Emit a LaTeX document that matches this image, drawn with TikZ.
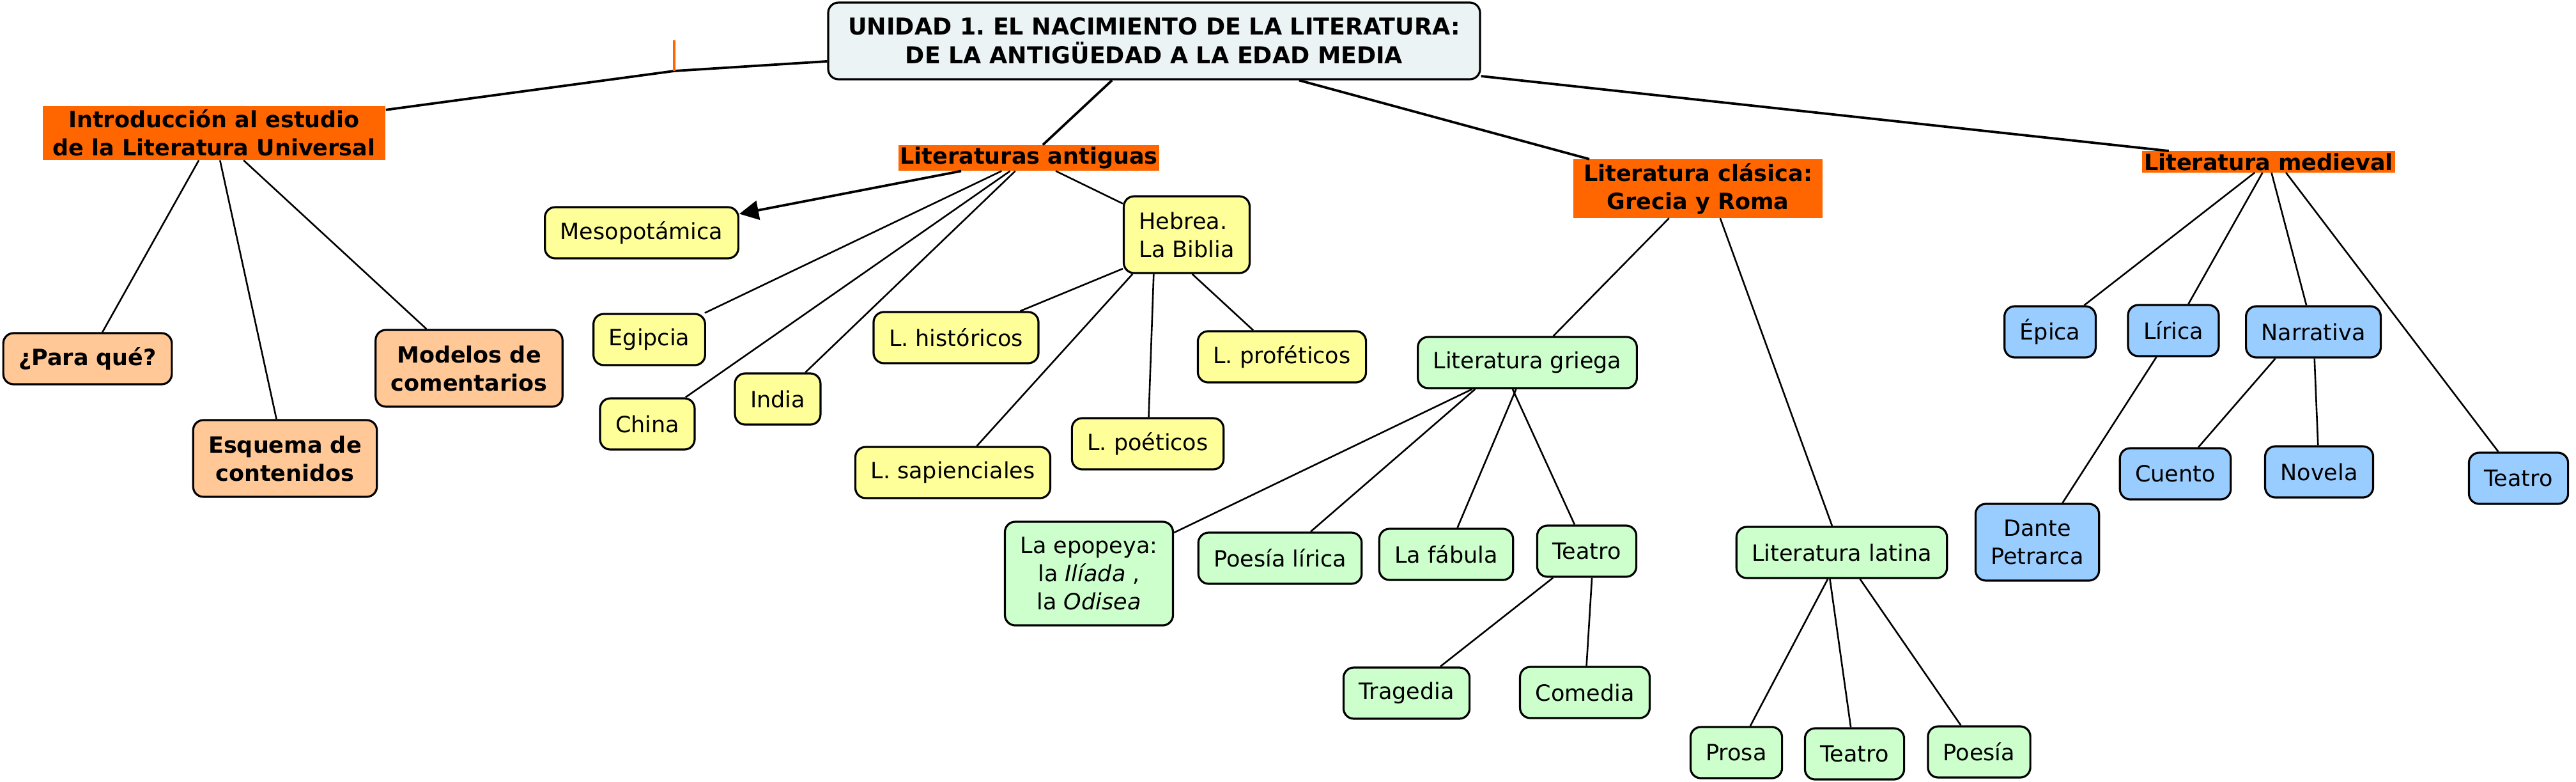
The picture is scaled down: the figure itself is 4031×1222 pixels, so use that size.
\documentclass[tikz,border=0pt]{standalone}
\usepackage{fontspec}
\setmainfont{DejaVu Sans}
\usetikzlibrary{arrows.meta}
\frenchspacing

\definecolor{naranja}{HTML}{FF6600}
\definecolor{melocoton}{HTML}{FFC896}
\definecolor{amarillo}{HTML}{FFFF99}
\definecolor{verde}{HTML}{CCFFCC}
\definecolor{azul}{HTML}{99CCFF}
\definecolor{grisazul}{HTML}{EBF3F5}

\tikzset{
  concepto/.style={draw, line width=1.6pt, rounded corners=8pt, align=center,
    inner xsep=12pt, minimum height=40pt},
  negrita/.style={execute at begin node=\bfseries},
  titulo/.style={concepto, negrita, fill=grisazul, minimum height=60pt, minimum width=510pt,
    font=\fontsize{18.2pt}{22.5pt}\selectfont},
  rama/.style={fill=naranja, negrita, align=center, inner xsep=8pt, inner ysep=3pt},
  pregunta/.style={concepto, negrita, fill=melocoton},
  antigua/.style={concepto, fill=amarillo},
  clasico/.style={concepto, fill=verde},
  medio/.style={concepto, fill=azul},
  enlace/.style={line width=1.3pt},
  principal/.style={line width=1.9pt},
  marca/.style={draw=naranja, line width=2pt}
}

\begin{document}
\begin{tikzpicture}[x=0.5pt, y=-0.5pt, every node/.style={font=\fontsize{17.5pt}{22pt}\selectfont}]
    \useasboundingbox (0,0) rectangle (4031,1222);

    % raiz y ramas principales
    \node[titulo] (unidad) at (1806,64) {UNIDAD 1. EL NACIMIENTO DE LA LITERATURA:\\DE LA ANTIGÜEDAD A LA EDAD MEDIA};
    \node[rama] (intro) at (335,208) {Introducción al estudio\\de la Literatura Universal};
    \node[rama, inner sep=1.5pt] (antiguas) at (1610,247) {Literaturas antiguas};
    \node[rama] (clasica) at (2657,295) {Literatura clásica:\\Grecia y Roma};
    \node[rama, inner sep=1.5pt] (medieval) at (3550,253) {Literatura medieval};
    \coordinate (codo) at (1055,111);

    % introduccion
    \node[pregunta] (paraque) at (137,561) {¿Para qué?};
    \node[pregunta, minimum height=60pt] (esquema) at (446,717) {Esquema de\\contenidos};
    \node[pregunta, minimum height=60pt] (modelos) at (734,576) {Modelos de\\comentarios};

    % literaturas antiguas
    \node[antigua] (meso) at (1004,364) {Mesopotámica};
    \node[antigua] (egipcia) at (1016,531) {Egipcia};
    \node[antigua] (china) at (1013,663) {China};
    \node[antigua] (india) at (1217,624) {India};
    \node[antigua, align=left, minimum height=60pt] (hebrea) at (1857,367) {Hebrea.\\La Biblia};
    \node[antigua] (historicos) at (1496,528) {L. históricos};
    \node[antigua] (profeticos) at (2006,558) {L. proféticos};
    \node[antigua] (poeticos) at (1796,694) {L. poéticos};
    \node[antigua] (sapienciales) at (1491,739) {L. sapienciales};

    % literatura clasica
    \node[clasico] (griega) at (2390,567) {Literatura griega};
    \node[clasico, minimum height=81pt] (epopeya) at (1704,897) {La epopeya:\\la \textit{Ilíada} ,\\la \textit{Odisea}};
    \node[clasico] (lirica) at (2003,873) {Poesía lírica};
    \node[clasico] (fabula) at (2263,867) {La fábula};
    \node[clasico] (teatrogr) at (2483,862) {Teatro};
    \node[clasico] (tragedia) at (2201,1084) {Tragedia};
    \node[clasico] (comedia) at (2480,1083) {Comedia};
    \node[clasico] (latina) at (2882,864) {Literatura latina};
    \node[clasico] (prosa) at (2717,1177) {Prosa};
    \node[clasico] (teatrola) at (2902,1179) {Teatro};
    \node[clasico] (poesia) at (3097,1176) {Poesía};

    % literatura medieval
    \node[medio] (epica) at (3208,519) {Épica};
    \node[medio] (liricamed) at (3401,517) {Lírica};
    \node[medio] (narrativa) at (3620,519) {Narrativa};
    \node[medio, minimum height=60pt] (dante) at (3188,848) {Dante\\Petrarca};
    \node[medio] (cuento) at (3404,741) {Cuento};
    \node[medio] (novela) at (3629,738) {Novela};
    \node[medio] (teatromed) at (3941,748) {Teatro};

    % enlaces
    \draw[principal] (intro) -- (codo) -- (unidad);
    \draw[marca] (codo) -- ++(0,-48);
    \draw[principal] (unidad) -- (antiguas);
    \draw[principal] (unidad) -- (clasica);
    \draw[principal] (unidad) -- (medieval);

    \draw[enlace] (intro) -- (paraque);
    \draw[enlace] (intro) -- (esquema);
    \draw[enlace] (intro) -- (modelos);

    \draw[principal, -{Triangle[length=15pt, width=15pt]}] (antiguas) -- (meso);
    \draw[enlace] (antiguas) -- (egipcia);
    \draw[enlace] (antiguas) -- (china);
    \draw[enlace] (antiguas) -- (india);
    \draw[enlace] (antiguas) -- (hebrea);
    \draw[enlace] (hebrea.208) -- (historicos);
    \draw[enlace] (hebrea.216.5) -- (sapienciales);
    \draw[enlace] (hebrea.230.7) -- (poeticos);
    \draw[enlace] (hebrea.278.4) -- (profeticos);

    \draw[enlace] (clasica) -- (griega);
    \draw[enlace] (clasica.307) -- (latina);
    \draw[enlace] (griega) -- (epopeya);
    \draw[enlace] (griega.207.6) -- (lirica);
    \draw[enlace] (griega) -- (fabula);
    \draw[enlace] (griega.241.1) -- (teatrogr);
    \draw[enlace] (teatrogr) -- (tragedia);
    \draw[enlace] (teatrogr.281.2) -- (comedia);
    \draw[enlace] (latina) -- (prosa);
    \draw[enlace] (latina.246.2) -- (teatrola);
    \draw[enlace] (latina) -- (poesia);

    \draw[enlace] (medieval) -- (epica);
    \draw[enlace] (medieval) -- (liricamed);
    \draw[enlace] (medieval) -- (narrativa);
    \draw[enlace] (medieval.328.1) -- (teatromed);
    \draw[enlace] (liricamed) -- (dante);
    \draw[enlace] (narrativa.215.7) -- (cuento);
    \draw[enlace] (narrativa) -- (novela);
\end{tikzpicture}
\end{document}
